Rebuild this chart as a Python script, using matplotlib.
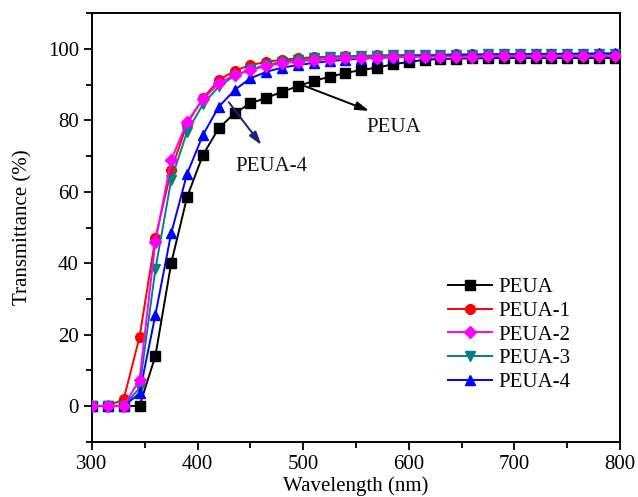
import matplotlib
matplotlib.use("Agg")
import matplotlib.pyplot as plt
from matplotlib.ticker import MultipleLocator

plt.rcParams['font.family'] = ['Liberation Serif', 'DejaVu Serif']

wavelength = [300, 315, 330, 345, 360, 375, 390, 405, 420, 435, 450, 465, 480, 495,
              510, 525, 540, 555, 570, 585, 600, 615, 630, 645, 660, 675, 690, 705,
              720, 735, 750, 765, 780, 795]

peua = [0, 0, 0, 0, 14, 40, 58.5, 70.3, 77.8, 82, 84.8, 86.3, 88, 89.6, 91.1, 92.2,
        93.3, 94.1, 94.8, 95.7, 96.4, 97.0, 97.2, 97.3, 97.4, 97.4, 97.5, 97.5, 97.5,
        97.5, 97.5, 97.5, 97.5, 97.5]
peua1 = [0, 0, 1.9, 19.3, 47, 66, 79, 86.2, 91.3, 93.9, 95.5, 96.4, 97.0, 97.4, 97.7,
         97.9, 98.0, 98.1, 98.2, 98.3, 98.3, 98.4, 98.4, 98.5, 98.5, 98.5, 98.5, 98.6,
         98.6, 98.6, 98.6, 98.6, 98.6, 98.6]
peua2 = [0, 0, 0, 7.3, 46, 68.9, 79.6, 85.9, 90.4, 92.7, 94.1, 95.2, 96.0, 96.5, 96.9,
         97.2, 97.4, 97.5, 97.6, 97.7, 97.8, 97.8, 97.9, 97.9, 97.9, 98, 98, 98, 98, 98,
         98, 98, 98, 98]
peua3 = [0, 0, 0, 5, 38.3, 63.3, 76.8, 84.5, 89.5, 92.5, 94.3, 95.5, 96.4, 97.0, 97.4,
         97.7, 97.9, 98.0, 98.1, 98.2, 98.3, 98.3, 98.4, 98.4, 98.4, 98.5, 98.5, 98.5,
         98.5, 98.5, 98.5, 98.5, 98.5, 98.5]
peua4 = [0, 0, 0, 3.5, 25.5, 48.4, 65, 75.9, 83.8, 88.5, 91.8, 93.6, 94.8, 95.5, 96.1,
         96.6, 97.0, 97.3, 97.5, 97.7, 97.9, 98.0, 98.1, 98.2, 98.3, 98.4, 98.5, 98.5,
         98.6, 98.6, 98.7, 98.7, 98.8, 98.8]

series = [
    ("PEUA", peua, "#000000", "s", 2),
    ("PEUA-1", peua1, "#ff0000", "o", 3),
    ("PEUA-2", peua2, "#ff00ff", "D", 7),
    ("PEUA-3", peua3, "#008080", "v", 4),
    ("PEUA-4", peua4, "#0000ff", "^", 5),
]

fig = plt.figure(figsize=(6.38, 4.97), dpi=100)
ax = fig.add_axes([0.1442, 0.1113, 0.8276, 0.8619])

for name, vals, col, mk, z in series:
    ms = 6 if mk == "D" else 7
    ax.plot(wavelength, vals, color=col, marker=mk, markersize=ms, lw=1.4,
            label=name, zorder=z)

ax.set_xlim(300, 800)
ax.set_ylim(-10, 110)
ax.xaxis.set_major_locator(MultipleLocator(100))
ax.xaxis.set_minor_locator(MultipleLocator(50))
ax.yaxis.set_major_locator(MultipleLocator(20))
ax.yaxis.set_minor_locator(MultipleLocator(10))
ax.tick_params(which='both', direction='out', top=False, right=False,
               labelsize=15, width=1.3, colors='black')
ax.tick_params(which='major', length=6)
ax.tick_params(which='minor', length=4)
for sp in ax.spines.values():
    sp.set_linewidth(1.4)

ax.set_xlabel("Wavelength (nm)", fontsize=15, labelpad=1.5)
ax.set_ylabel("Transmittance (%)", fontsize=15, labelpad=11)

leg = ax.legend(loc='upper left', bbox_to_anchor=(0.674, 0.383), frameon=False,
                fontsize=15, handlelength=2.1, handletextpad=0.3, labelspacing=0.2,
                borderpad=0, borderaxespad=0)

ax.annotate("", xy=(565, 82.4), xytext=(499, 89.9),
            arrowprops=dict(arrowstyle="-|>,head_length=0.8,head_width=0.25",
                            color="black", lw=1.4), zorder=8)
ax.text(586, 77.9, "PEUA", fontsize=15, ha='center', va='center', color='#111111')

ax.annotate("", xy=(462, 72.5), xytext=(428, 85.7),
            arrowprops=dict(arrowstyle="-|>,head_length=0.8,head_width=0.25",
                            color="#1a237e", lw=1.4), zorder=8)
ax.text(469.5, 67.2, "PEUA-4", fontsize=15, ha='center', va='center', color='#111111')

fig.savefig("out.png", dpi=100)
